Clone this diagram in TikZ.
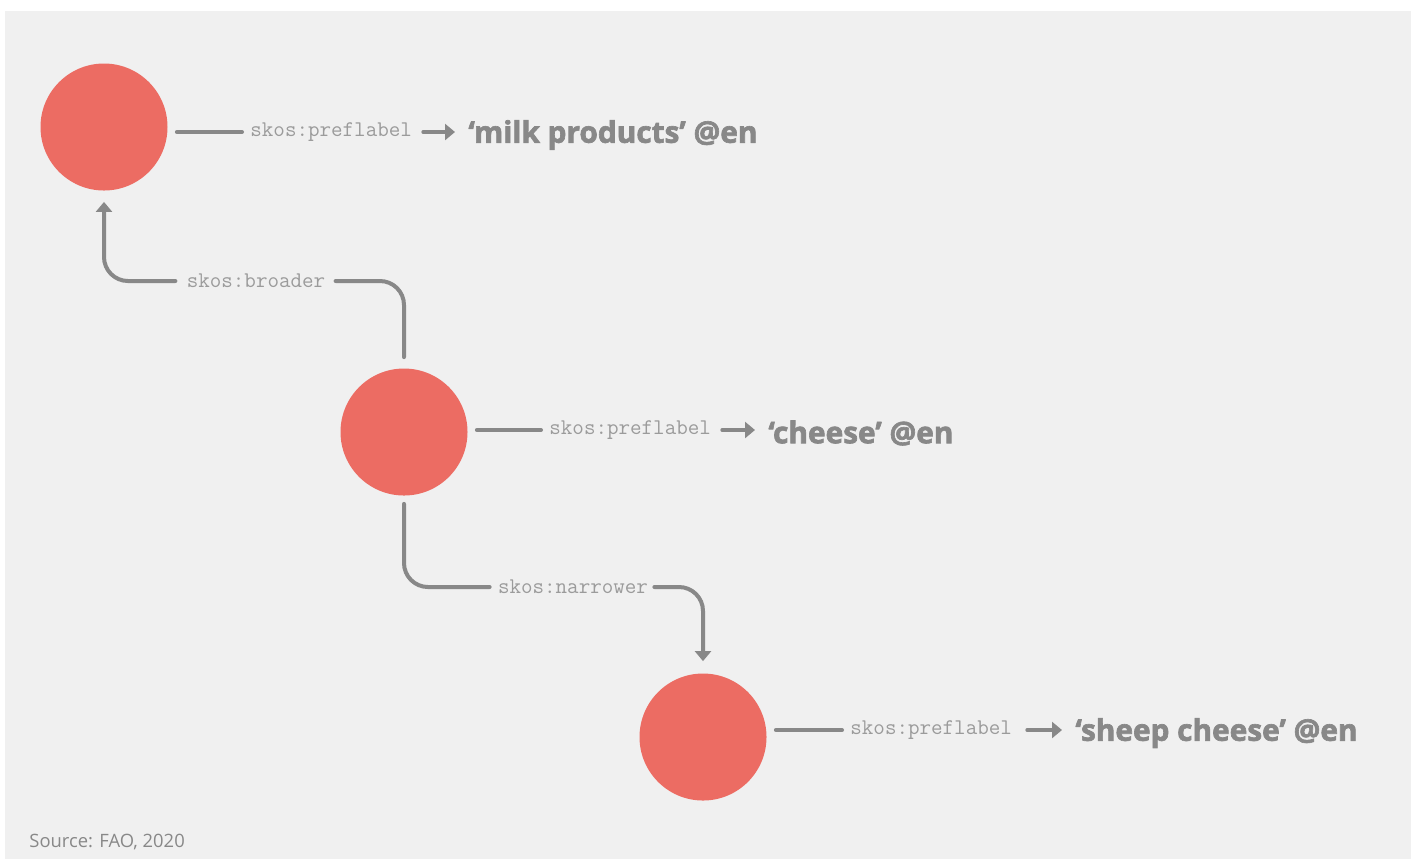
\documentclass[tikz,border=0pt]{standalone}
\usepackage{fontspec}
\setmainfont{Open Sans}
\newfontfamily\heavyfont{Open Sans}[BoldFeatures={FakeBold=2.2}]
\usetikzlibrary{arrows.meta}

\definecolor{panel}{HTML}{F0F0F0}
\definecolor{concept}{HTML}{EC6C63}
\definecolor{edge}{HTML}{888888}
\definecolor{proptext}{HTML}{9B9B9B}

\begin{document}
\begin{tikzpicture}[x=0.5pt,y=-0.5pt,
    conceptnode/.style={circle,fill=concept,minimum size=63.5pt,inner sep=0pt},
    propnode/.style={inner sep=0pt,text=proptext,font=\ttfamily\fontsize{11.2}{13}\selectfont},
    valuenode/.style={inner sep=0pt,anchor=west,text=edge,font=\heavyfont\bfseries\fontsize{14.9}{17}\selectfont},
    link/.style={draw=edge,line width=2pt,line cap=round},
    pointer/.style={link,-{Triangle[length=5pt,width=8pt]}},
    elbow/.style={rounded corners=12pt}]

      %% panel
      \fill[panel] (5,11) rectangle (1411,859);
      \useasboundingbox (0,0) rectangle (1416,859);

      %% concepts
      \node[conceptnode] (milk) at (104,127) {};   % milk products
      \node[conceptnode] (cheese) at (404,432) {}; % cheese
      \node[conceptnode] (sheep) at (703,737) {};  % sheep cheese

      %% preferred labels
      \node[propnode,anchor=west] (milkprop) at (250,132) {skos:preflabel};
      \node[valuenode] (milkval) at (468,135) {‘milk products’ @en};

      \node[propnode,anchor=west] (cheeseprop) at (549,430) {skos:preflabel};
      \node[valuenode] (cheeseval) at (768,433) {‘cheese’ @en};

      \node[propnode,anchor=west] (sheepprop) at (850,730) {skos:preflabel};
      \node[valuenode] (sheepval) at (1075,733) {‘sheep cheese’ @en};

      %% relation labels
      \node[propnode] (broader) at (256,281) {skos:broader};
      \node[propnode] (narrower) at (573,587) {skos:narrower};

      %% edges
      % milk -> label
      \draw[link,shorten <=4.5pt,shorten >=4pt] (milk.east |- milkprop.west) -- (milkprop.west);
      \draw[pointer,shorten <=5.5pt,shorten >=6.5pt] (milkprop.east) -- (milkprop.east -| milkval.west);

      % cheese -> label
      \draw[link,shorten <=4.5pt,shorten >=4pt] (cheese.east |- cheeseprop.west) -- (cheeseprop.west);
      \draw[pointer,shorten <=5.5pt,shorten >=6.5pt] (cheeseprop.east) -- (cheeseprop.east -| cheeseval.west);

      % sheep -> label
      \draw[link,shorten <=4.5pt,shorten >=4pt] (sheep.east |- sheepprop.west) -- (sheepprop.west);
      \draw[pointer,shorten <=7.5pt,shorten >=6.5pt] (sheepprop.east) -- (sheepprop.east -| sheepval.west);

      % cheese -> milk
      \draw[link,elbow,shorten <=5.5pt,shorten >=5pt] (cheese.north) |- (broader.east);
      \draw[pointer,elbow,shorten <=5.5pt,shorten >=5.5pt] (broader.west) -| (milk.south);

      % cheese -> sheep
      \draw[link,elbow,shorten <=4pt,shorten >=4pt] (cheese.south) |- (narrower.west);
      \draw[pointer,elbow,shorten <=3pt,shorten >=6pt] (narrower.east) -| (sheep.north);

      %% source
      \node[anchor=base west,inner sep=0pt,text=edge,font=\fontsize{9.2}{11}\selectfont] (source) at (29,847) {Source: FAO, 2020};

\end{tikzpicture}
\end{document}
